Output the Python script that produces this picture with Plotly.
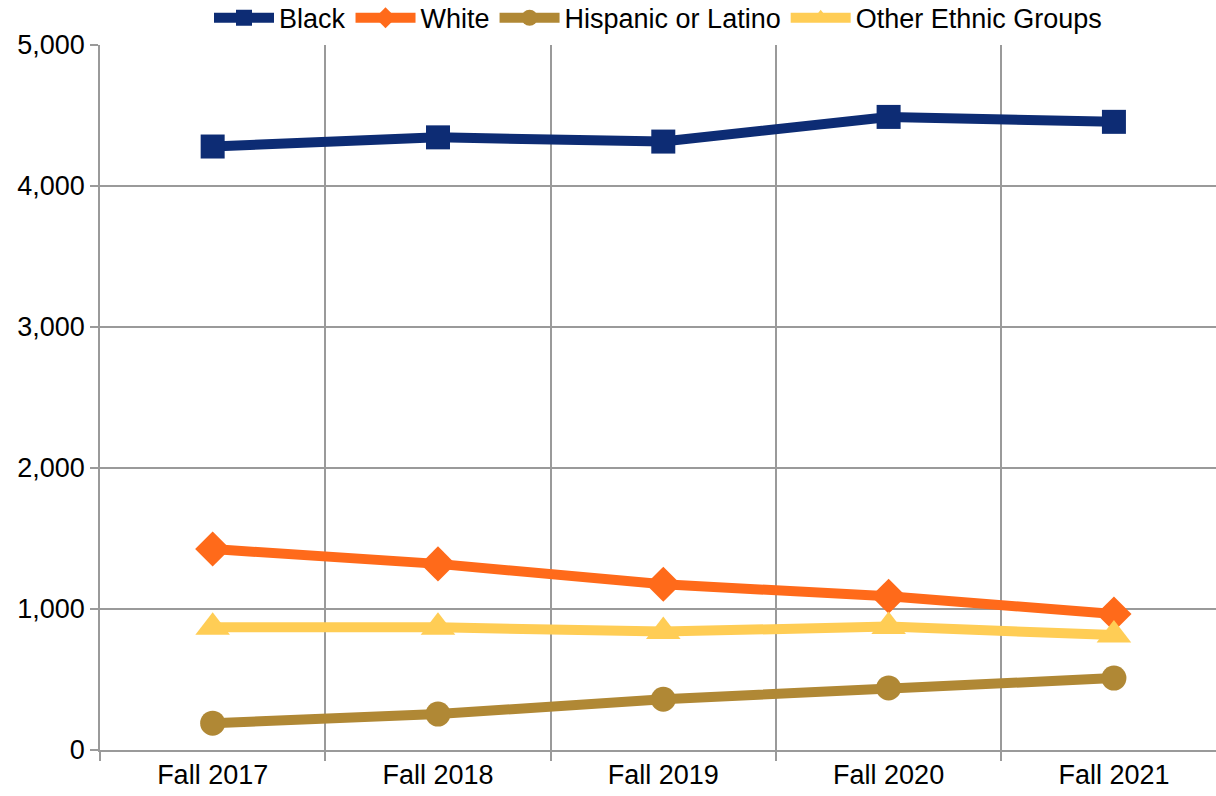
import plotly.graph_objects as go

categories = ["Fall 2017", "Fall 2018", "Fall 2019", "Fall 2020", "Fall 2021"]
black = [4280, 4345, 4315, 4490, 4455]
white = [1425, 1320, 1175, 1090, 965]
hispanic = [190, 255, 360, 440, 510]
other = [870, 870, 840, 875, 815]
y_ticks = [0, 1000, 2000, 3000, 4000, 5000]
y_tick_labels = ["0", "1,000", "2,000", "3,000", "4,000", "5,000"]

series = [
    ("Black", black, "#0d2c74", "square", 24),
    ("White", white, "#ff6a1a", "diamond", 27),
    ("Hispanic or Latino", hispanic, "#b08835", "circle", 25),
    ("Other Ethnic Groups", other, "#ffcd55", "triangle-up", 30),
]

fig = go.Figure()
for name, vals, color, sym, size in series:
    fig.add_trace(go.Scatter(
        x=categories, y=vals, name=name, mode="lines+markers",
        line=dict(color=color, width=10),
        marker=dict(symbol=sym, size=size, color=color),
    ))

font = "Liberation Sans, Arial, sans-serif"
grid = "#9a9a9a"
fig.update_layout(
    width=1216, height=796,
    margin=dict(l=100, r=0, t=45, b=46, autoexpand=False),
    paper_bgcolor="white", plot_bgcolor="white",
    font=dict(family=font, size=27, color="black"),
    showlegend=True,
    legend=dict(orientation="h", x=0.5, xanchor="center", y=1.038, yref="paper",
                yanchor="middle", font=dict(size=27), itemwidth=60, tracegroupgap=0,
                bgcolor="rgba(0,0,0,0)"),
)
fig.update_xaxes(
    type="category", range=[-0.5, 4.453], automargin=False,
    showgrid=True, gridcolor=grid, gridwidth=1.5,
    tickson="boundaries", ticks="outside", ticklen=9, tickcolor=grid, tickwidth=1.5,
    showline=True, linecolor=grid, linewidth=1.5,
    tickfont=dict(size=27),
)
fig.update_yaxes(
    range=[0, 5000], tickvals=y_ticks, ticktext=y_tick_labels, automargin=False,
    showgrid=True, gridcolor=grid, gridwidth=1.5,
    ticks="outside", ticklen=8, tickcolor=grid, tickwidth=1.5,
    showline=True, linecolor=grid, linewidth=1.5, zeroline=False,
    tickfont=dict(size=27),
)
fig.write_html("out.html", config={"displayModeBar": False},
               post_script="document.body.style.margin='0';")
